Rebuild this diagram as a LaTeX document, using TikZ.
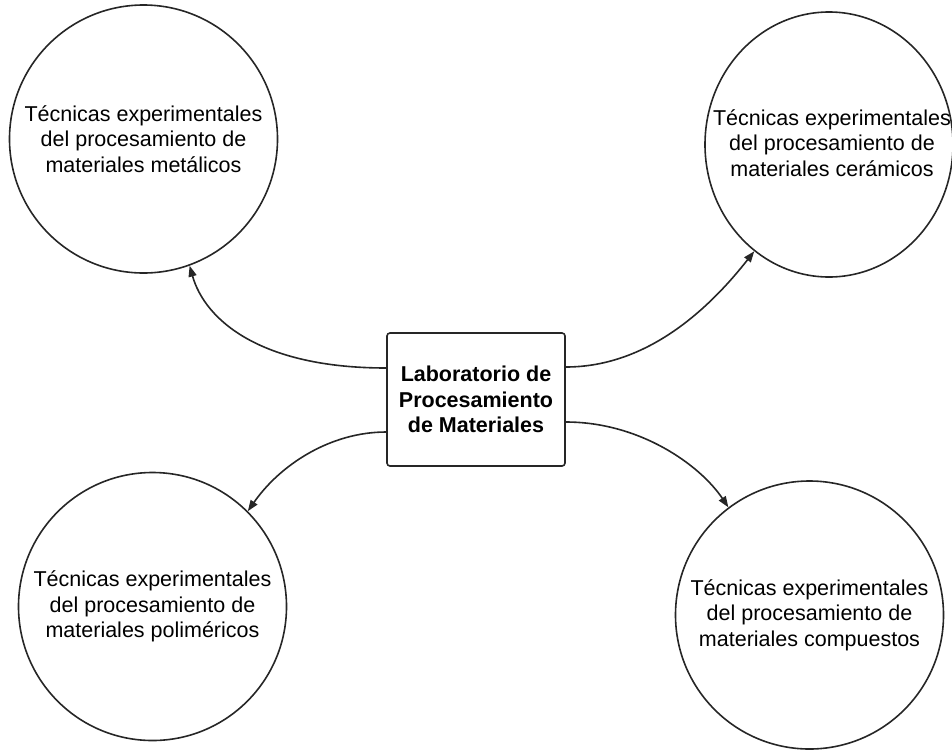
\documentclass[tikz,border=0pt]{standalone}
\usepackage{fontspec}
\setmainfont{Liberation Sans}
\usetikzlibrary{arrows.meta,shapes.geometric,calc}
\begin{document}
\begin{tikzpicture}[x=1pt,y=-1pt,
  txt/.style={align=center,inner sep=0pt,font=\fontsize{21.5}{25.5}\selectfont},
  bubble/.style={txt,draw=black!85,line width=1.6pt,circle,minimum size=268pt},
  oval/.style={draw=black!85,line width=1.6pt,ellipse,minimum width=248pt,minimum height=265pt,inner sep=0pt},
  hub/.style={draw=black!85,line width=1.6pt,rounded corners=3pt,minimum width=178pt,minimum height=133pt,inner sep=0pt,align=center,font=\bfseries\fontsize{21.5}{25.5}\selectfont},
  link/.style={line width=1.6pt,draw=black!85,-{Triangle[length=11pt,width=8pt]}}]
\useasboundingbox (0,0) rectangle (952,750);
\node[hub] (lab) at (476,399.5) {Laboratorio de\\Procesamiento\\de Materiales};
\node[bubble] (met) at (143.5,139) {Técnicas experimentales\\del procesamiento de\\materiales metálicos};
\node[oval] (cer) at (829,144.5) {};
\node[txt] (certxt) at (832,143) {Técnicas experimentales\\del procesamiento de\\materiales cerámicos};
\node[bubble] (pol) at (152.5,606.5) {Técnicas experimentales\\del procesamiento de\\materiales poliméricos};
\node[bubble] (com) at (809.5,615) {Técnicas experimentales\\del procesamiento de\\materiales compuestos};
\coordinate (lw1) at ([yshift=31.5pt]lab.west);
\coordinate (lw2) at ([yshift=-32.5pt]lab.west);
\coordinate (le1) at ([yshift=32.5pt]lab.east);
\coordinate (le2) at ([yshift=-22.5pt]lab.east);
\draw[link] (lw1) .. controls (260,368) and (205,320) .. (met.-70);
\draw[link] (le1) .. controls (650,367) and (712,305) .. (cer.-125);
\draw[link] (lw2) .. controls (330,432) and (280,465) .. (pol.45);
\draw[link] (le2) .. controls (640,422) and (700,465) .. (com.127);
\end{tikzpicture}
\end{document}
